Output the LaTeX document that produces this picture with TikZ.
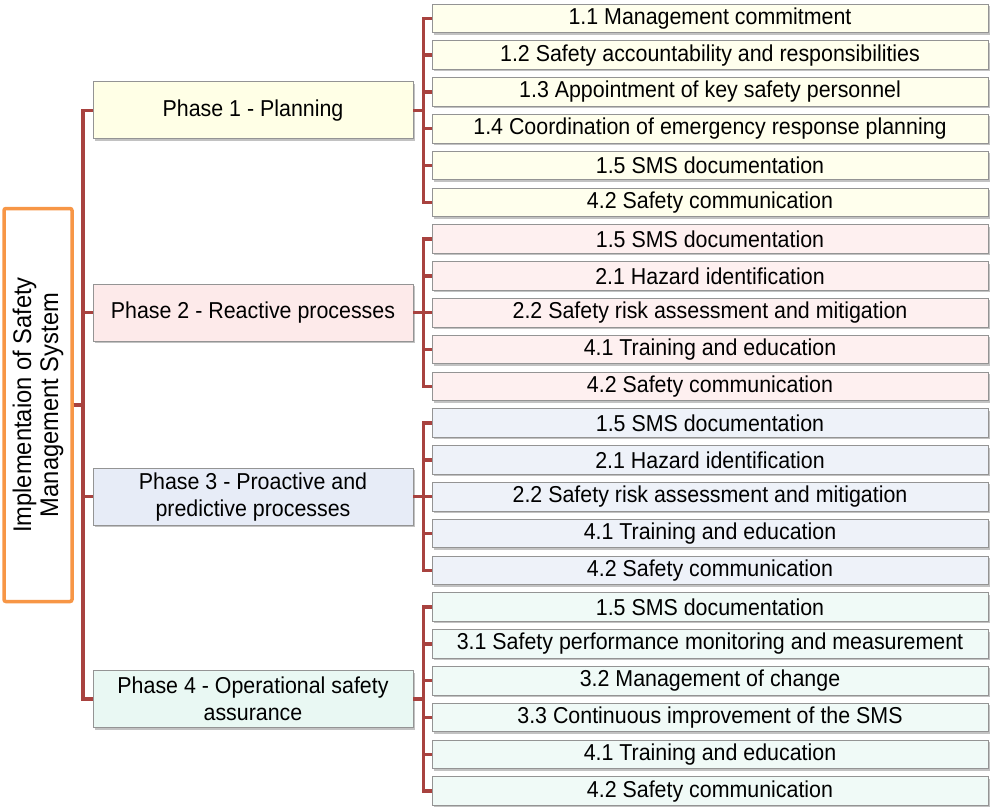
\documentclass[tikz,border=0pt]{standalone}
\usepackage{fontspec}
\setmainfont{Liberation Sans}[FakeStretch=0.93]
\usetikzlibrary{shadows}
\definecolor{linkred}{HTML}{A8423F}
\definecolor{boxline}{HTML}{949494}
\definecolor{rootline}{HTML}{F79646}
\definecolor{fillA}{HTML}{FFFFE6}
\definecolor{fillB}{HTML}{FDEAEA}
\definecolor{fillC}{HTML}{E7ECF7}
\definecolor{fillD}{HTML}{E9F8F3}
\tikzset{
  box/.style={draw=boxline,line width=0.8pt,inner sep=0pt,
    drop shadow={shadow xshift=1.5pt,shadow yshift=-2pt,opacity=0.4,fill=black!60}},
  phase/.style={box,minimum width=320pt,minimum height=57pt,align=center,
    font=\fontsize{23}{27}\selectfont},
  leaf/.style={box,minimum width=556pt,minimum height=28.5pt,
    font=\fontsize{23}{27}\selectfont},
  link/.style={draw=linkred,line width=3.5pt}
}
\begin{document}
\begin{tikzpicture}[x=1pt,y=-1pt]
  \useasboundingbox (0,0) rectangle (990,807);
  \node[draw=rootline,line width=3.5pt,rounded corners=2pt,fill=white,
    minimum width=393pt,minimum height=68pt,rotate=90,align=center,
    font=\fontsize{25.5}{27}\selectfont] (root) at (38,405)
    {Implementaion of Safety\\Management System};

  \node[phase,fill=fillA] (p1) at (253,110.3) {Phase 1 - Planning};
  \node[phase,fill=fillB] (p2) at (253,312.7) {Phase 2 - Reactive processes};
  \node[phase,fill=fillC] (p3) at (253,496.7) {Phase 3 - Proactive and\\predictive processes};
  \node[phase,fill=fillD] (p4) at (253,699.1) {Phase 4 - Operational safety\\assurance};

  \node[leaf,fill=fillA!70!white] (a1) at (710,18.3) {1.1 Management commitment};
  \node[leaf,fill=fillA!70!white] (a2) at (710,55.1) {1.2 Safety accountability and responsibilities};
  \node[leaf,fill=fillA!70!white] (a3) at (710,91.9) {1.3 Appointment of key safety personnel};
  \node[leaf,fill=fillA!70!white] (a4) at (710,128.7) {1.4 Coordination of emergency response planning};
  \node[leaf,fill=fillA!70!white] (a5) at (710,165.5) {1.5 SMS documentation};
  \node[leaf,fill=fillA!70!white] (a6) at (710,202.3) {4.2 Safety communication};

  \node[leaf,fill=fillB!70!white] (b1) at (710,239.1) {1.5 SMS documentation};
  \node[leaf,fill=fillB!70!white] (b2) at (710,275.9) {2.1 Hazard identification};
  \node[leaf,fill=fillB!70!white] (b3) at (710,312.7) {2.2 Safety risk assessment and mitigation};
  \node[leaf,fill=fillB!70!white] (b4) at (710,349.5) {4.1 Training and education};
  \node[leaf,fill=fillB!70!white] (b5) at (710,386.3) {4.2 Safety communication};

  \node[leaf,fill=fillC!70!white] (c1) at (710,423.1) {1.5 SMS documentation};
  \node[leaf,fill=fillC!70!white] (c2) at (710,459.9) {2.1 Hazard identification};
  \node[leaf,fill=fillC!70!white] (c3) at (710,496.7) {2.2 Safety risk assessment and mitigation};
  \node[leaf,fill=fillC!70!white] (c4) at (710,533.5) {4.1 Training and education};
  \node[leaf,fill=fillC!70!white] (c5) at (710,570.3) {4.2 Safety communication};

  \node[leaf,fill=fillD!70!white] (d1) at (710,607.1) {1.5 SMS documentation};
  \node[leaf,fill=fillD!70!white] (d2) at (710,643.9) {3.1 Safety performance monitoring and measurement};
  \node[leaf,fill=fillD!70!white] (d3) at (710,680.7) {3.2 Management of change};
  \node[leaf,fill=fillD!70!white] (d4) at (710,717.5) {3.3 Continuous improvement of the SMS};
  \node[leaf,fill=fillD!70!white] (d5) at (710,754.3) {4.1 Training and education};
  \node[leaf,fill=fillD!70!white] (d6) at (710,791.1) {4.2 Safety communication};

  \foreach \p in {p1,p2,p3,p4}
    \draw[link] (root.south) -- ++(9,0) |- (\p.west);
  \foreach \i in {1,...,6}
    \draw[link] (p1.east) -- ++(10,0) |- (a\i.west);
  \foreach \i in {1,...,5}
    \draw[link] (p2.east) -- ++(10,0) |- (b\i.west);
  \foreach \i in {1,...,5}
    \draw[link] (p3.east) -- ++(10,0) |- (c\i.west);
  \foreach \i in {1,...,6}
    \draw[link] (p4.east) -- ++(10,0) |- (d\i.west);
\end{tikzpicture}
\end{document}
